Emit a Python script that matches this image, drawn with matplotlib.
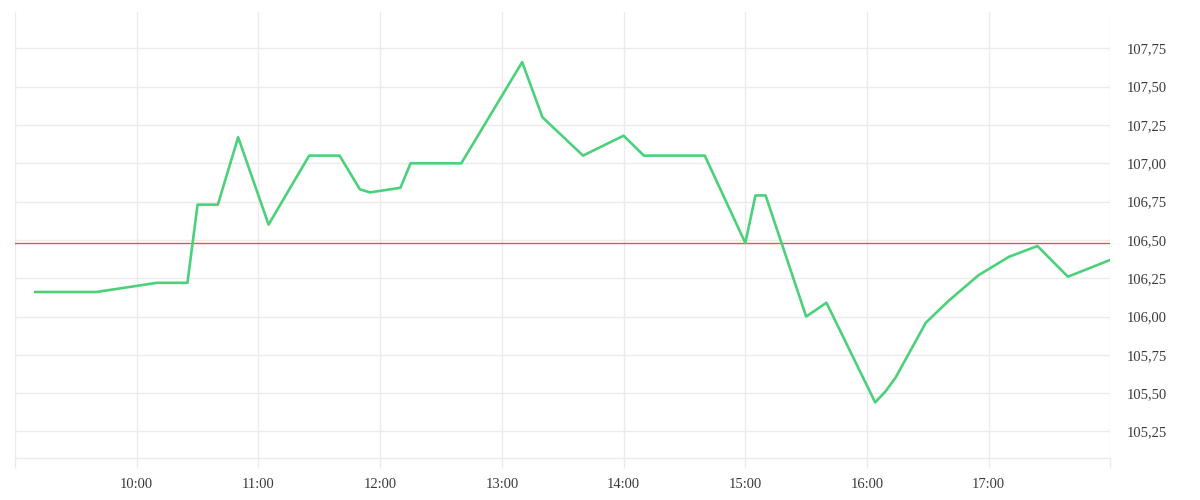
import matplotlib.pyplot as plt
from matplotlib.ticker import FuncFormatter

# intraday prices (time of day, price)
times = ['09:10', '09:40', '10:10', '10:25', '10:30', '10:40', '10:50', '11:05',
         '11:25', '11:40', '11:50', '11:55', '12:10', '12:15', '12:40', '13:10',
         '13:20', '13:40', '14:00', '14:10', '14:40', '15:00', '15:05', '15:10',
         '15:30', '15:40', '16:04', '16:09', '16:14', '16:29', '16:40', '16:55',
         '17:10', '17:24', '17:39', '18:00']
prices = [106.16, 106.16, 106.22, 106.22, 106.73, 106.73, 107.17, 106.60,
          107.05, 107.05, 106.83, 106.81, 106.84, 107.00, 107.00, 107.66,
          107.30, 107.05, 107.18, 107.05, 107.05, 106.48, 106.79, 106.79,
          106.00, 106.09, 105.44, 105.51, 105.60, 105.96, 106.10, 106.27,
          106.39, 106.46, 106.26, 106.37]
reference_price = 106.48

hour_ticks = list(range(9, 19))
hour_labels = ['', '10:00', '11:00', '12:00', '13:00', '14:00', '15:00', '16:00', '17:00', '']
price_ticks = [105.25, 105.50, 105.75, 106.00, 106.25, 106.50, 106.75, 107.00, 107.25, 107.50, 107.75]


def to_hours(s):
    h, m = s.split(':')
    return int(h) + int(m) / 60


x = [to_hours(t) for t in times]

plt.rcParams['font.family'] = ['Liberation Serif', 'DejaVu Serif']

fig = plt.figure(figsize=(12, 5), dpi=100)
ax = fig.add_axes([0.0125, 0.0834, 0.9129, 0.8926])

grid_color = '#ebebeb'

ax.axhline(reference_price, color='#ff4d4d', linewidth=1, zorder=2)
ax.plot(x, prices, color='#4cd17b', linewidth=1.9, zorder=3, clip_on=True)

ax.set_xlim(9, 18)
ax.set_ylim(105.075, 107.987)

ax.set_xticks(hour_ticks)
ax.set_xticklabels(hour_labels)
ax.set_yticks(price_ticks)
ax.yaxis.set_major_formatter(FuncFormatter(lambda v, p: f'{v:.2f}'.replace('.', ',')))

ax.yaxis.tick_right()
ax.grid(True, color=grid_color, linewidth=1, zorder=0)

for side in ['top', 'left', 'right']:
    ax.spines[side].set_visible(False)
ax.spines['bottom'].set_color(grid_color)
ax.spines['bottom'].set_linewidth(1)

ax.tick_params(axis='x', length=7, width=1, color=grid_color, pad=7.5,
               labelsize=10.5, labelcolor='#3a3a3a')
ax.tick_params(axis='y', length=0, pad=12, labelsize=10.5, labelcolor='#3a3a3a')

fig.savefig('out.png', dpi=100)
